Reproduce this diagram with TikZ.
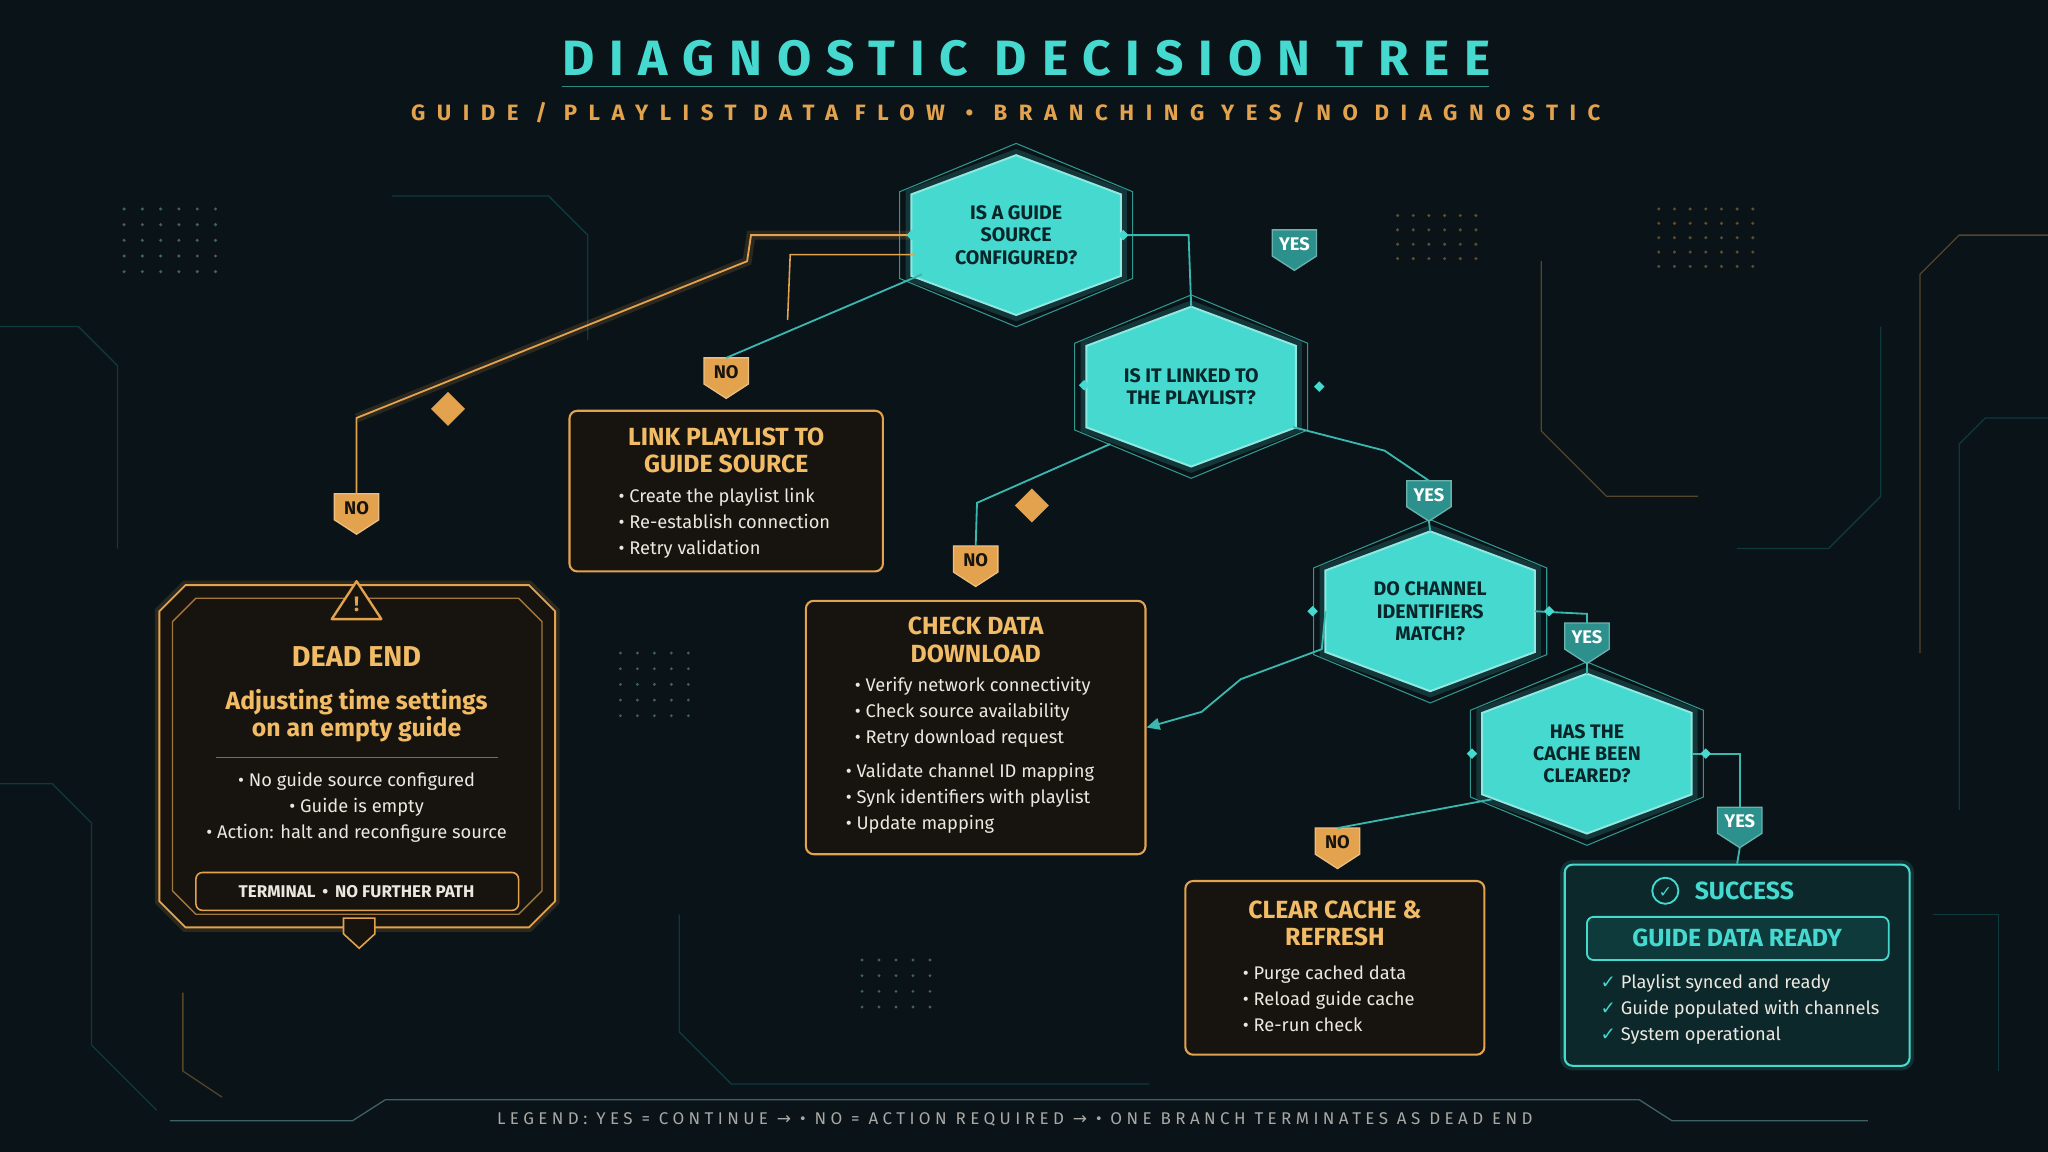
\documentclass[tikz,border=0pt]{standalone}
\usepackage{fontspec}
\setmainfont{Fira Sans}
\newfontfamily\sym{DejaVu Sans}
\usetikzlibrary{calc,arrows.meta}
\definecolor{bg}{HTML}{0A1317}
\definecolor{cy}{HTML}{45D9CF}
\definecolor{cyl}{HTML}{3AB8B0}
\definecolor{cyd}{HTML}{0E3A3C}
\definecolor{org}{HTML}{E3A24E}
\definecolor{orgt}{HTML}{F2BC66}
\definecolor{bxf}{HTML}{17140F}
\definecolor{txt}{HTML}{ECE8E0}
\definecolor{dk}{HTML}{08262A}
\tikzset{
 hexbox/.style={minimum width=160pt,minimum height=122pt,inner sep=0},
 hexfill/.style={fill=cy,draw=cy!60!white,line width=1.5pt},
 hexglow/.style={draw=cy,line width=9pt,opacity=0.18},
 hexout/.style={draw=cy!70!black,line width=0.8pt},
 hextext/.style={text=dk,font=\fontsize{15}{17}\selectfont\bfseries,align=center},
 obox/.style={draw=org,line width=1.6pt,fill=bxf,rounded corners=6pt},
 cbox/.style={draw=cy,line width=1.6pt,fill=cyd!55!bg,rounded corners=6pt},
 otitle/.style={text=orgt,font=\fontsize{19}{21}\selectfont\bfseries,align=center},
 bul/.style={text=txt,font=\fontsize{14}{20}\selectfont,align=left},
 bulc/.style={text=txt,font=\fontsize{14}{20}\selectfont,align=center},
 oline/.style={draw=org,line width=1.4pt},
 cline/.style={draw=cyl,line width=1.4pt},
 glowo/.style={draw=org,line width=7pt,opacity=0.15},
 glowc/.style={draw=cy,line width=7pt,opacity=0.15},
 badgetext/.style={font=\fontsize{14}{16}\selectfont\bfseries},
 deco/.style={draw=cyd,line width=1pt},
 decoo/.style={draw=org!35!bg,line width=1pt},
}
\newcommand\hexa[4]{%
 \node[hexbox] (#1) at (#2,#3) {};
 \path[hexglow] (#1.north) -- ([yshift=-30pt]#1.north east) -- ([yshift=30pt]#1.south east) -- (#1.south) -- ([yshift=30pt]#1.south west) -- ([yshift=-30pt]#1.north west) -- cycle;
 \draw[hexout] ([yshift=9pt]#1.north) -- ([xshift=9pt,yshift=-28pt]#1.north east) -- ([xshift=9pt,yshift=28pt]#1.south east) -- ([yshift=-9pt]#1.south) -- ([xshift=-9pt,yshift=28pt]#1.south west) -- ([xshift=-9pt,yshift=-28pt]#1.north west) -- cycle;
 \path[hexfill] (#1.north) -- ([yshift=-30pt]#1.north east) -- ([yshift=30pt]#1.south east) -- (#1.south) -- ([yshift=30pt]#1.south west) -- ([yshift=-30pt]#1.north west) -- cycle;
 \node[hextext] at (#1) {#4};
}
% badge: name, x, y, text, fill, textcolour
\newcommand\badge[6]{%
 \path[fill=#5,draw=#5!70!white,line width=1pt] (#2-17,#3-14) -- (#2+17,#3-14) -- (#2+17,#3+6) -- (#2,#3+17) -- (#2-17,#3+6) -- cycle;
 \node[badgetext,text=#6,inner sep=0] (#1) at (#2,#3-3) {#4};
 \coordinate (#1t) at (#2,#3-14);
 \coordinate (#1b) at (#2,#3+17);
}
\begin{document}
\begin{tikzpicture}[x=1pt,y=-1pt]
\useasboundingbox (0,0) rectangle (1568,882);
\fill[bg] (0,0) rectangle (1568,882);
% background decoration
\foreach \i in {0,...,5}{\foreach \j in {0,...,4}{\fill[cyd!80!white] (95+\i*14,160+\j*12) circle (1.3pt);}}
\foreach \i in {0,...,6}{\foreach \j in {0,...,4}{\fill[org!40!bg] (1270+\i*12,160+\j*11) circle (1.3pt);}}
\foreach \i in {0,...,5}{\foreach \j in {0,...,3}{\fill[org!40!bg] (1070+\i*12,165+\j*11) circle (1.3pt);}}
\foreach \i in {0,...,4}{\foreach \j in {0,...,4}{\fill[cyd!80!white] (475+\i*13,500+\j*12) circle (1.2pt);}}
\foreach \i in {0,...,4}{\foreach \j in {0,...,3}{\fill[cyd!80!white] (660+\i*13,735+\j*12) circle (1.2pt);}}
\draw[deco] (0,250) -- (60,250) -- (90,280) -- (90,420);
\draw[deco] (0,600) -- (40,600) -- (70,630) -- (70,800) -- (120,850);
\draw[decoo] (1568,180) -- (1500,180) -- (1470,210) -- (1470,500);
\draw[deco] (1568,320) -- (1520,320) -- (1500,340) -- (1500,620);
\draw[deco] (1440,250) -- (1440,380) -- (1400,420) -- (1330,420);
\draw[deco] (520,700) -- (520,790) -- (560,830) -- (880,830);
\draw[decoo] (140,760) -- (140,820) -- (170,840);
\draw[deco] (1480,700) -- (1530,700) -- (1530,820);
\draw[decoo] (1180,200) -- (1180,330) -- (1230,380) -- (1300,380);
\draw[deco] (300,150) -- (420,150) -- (450,180) -- (450,260);
% title
\node[text=cy,font=\fontsize{38}{40}\selectfont\bfseries\addfontfeature{LetterSpace=30}] (title) at (786,45) {DIAGNOSTIC DECISION TREE};
\draw[cy,line width=1pt,opacity=0.6] (430,66) -- (1140,66);
\node[text=org,font=\fontsize{17}{19}\selectfont\bfseries\addfontfeature{LetterSpace=52}] (sub) at (770,86) {GUIDE / PLAYLIST DATA FLOW \,•\, BRANCHING YES/NO DIAGNOSTIC};
% hexagons
\hexa{h1}{778}{180}{IS A GUIDE\\SOURCE\\CONFIGURED?}
\hexa{h2}{912}{296}{IS IT LINKED TO\\THE PLAYLIST?}
\hexa{h3}{1095}{468}{DO CHANNEL\\IDENTIFIERS\\MATCH?}
\hexa{h4}{1215}{577}{HAS THE\\CACHE BEEN\\CLEARED?}
% dead end box
\path[glowo] (142,448) -- (405,448) -- (425,468) -- (425,690) -- (405,710) -- (142,710) -- (122,690) -- (122,468) -- cycle;
\draw[oline,fill=bxf] (142,448) -- (405,448) -- (425,468) -- (425,690) -- (405,710) -- (142,710) -- (122,690) -- (122,468) -- cycle;
\draw[org!70!bg,line width=1pt] (150,458) -- (397,458) -- (415,476) -- (415,682) -- (397,700) -- (150,700) -- (132,682) -- (132,476) -- cycle;
\node (dead) at (273,579) {};
\draw[org,line width=1.8pt,line join=round,fill=bxf] (273,445) -- (292,474) -- (254,474) -- cycle;
\node[text=org,font=\fontsize{16}{16}\selectfont\bfseries] at (273,463) {!};
\node[otitle,font=\fontsize{22}{24}\selectfont\bfseries] at (273,503) {DEAD END};
\node[otitle] at (273,548) {Adjusting time settings\\on an empty guide};
\draw[org!60!bg,line width=1pt] (165,580) -- (381,580);
\node[bulc] at (273,618) {• No guide source configured\\• Guide is empty\\• Action: halt and reconfigure source};
\draw[org,line width=1.2pt,rounded corners=5pt,fill=bxf] (150,668) rectangle (397,697);
\node[text=txt,font=\fontsize{13}{15}\selectfont\bfseries] at (273,683) {TERMINAL \,•\, NO FURTHER PATH};
\draw[org,line width=1.2pt,fill=bxf] (263,703) -- (287,703) -- (287,715) -- (275,726) -- (263,715) -- cycle;
% link playlist box
\node[obox,minimum width=240pt,minimum height=123pt] (link) at (556,376) {};
\node[otitle] at (556,345) {LINK PLAYLIST TO\\GUIDE SOURCE};
\node[bul,anchor=north west] at (470,370) {• Create the playlist link\\• Re-establish connection\\• Retry validation};
% check data box
\node[obox,minimum width=260pt,minimum height=194pt] (check) at (747,557) {};
\node[otitle] at (747,490) {CHECK DATA\\DOWNLOAD};
\node[bul,anchor=north west] at (651,515) {• Verify network connectivity\\• Check source availability\\• Retry download request};
\node[bul,anchor=north west] at (644,581) {• Validate channel ID mapping\\• Synk identifiers with playlist\\• Update mapping};
% clear cache box
\node[obox,minimum width=229pt,minimum height=133pt] (clear) at (1022,741) {};
\node[otitle] at (1022,707) {CLEAR CACHE \&\\REFRESH};
\node[bul,anchor=north west] at (948,736) {• Purge cached data\\• Reload guide cache\\• Re-run check};
% success box
\path[glowc,rounded corners=6pt] (1198,662) rectangle (1462,816);
\node[cbox,minimum width=264pt,minimum height=154pt] (succ) at (1330,739) {};
\draw[cy,line width=1.4pt] (1275,682) circle (10pt);
\node[text=cy,font=\sym\fontsize{12}{12}\selectfont] at (1275,683) {✓};
\node[text=cy,font=\fontsize{19}{21}\selectfont\bfseries,anchor=west] at (1294,682) {SUCCESS};
\draw[cy,line width=1.4pt,rounded corners=5pt,fill=cyd] (1215,702) rectangle (1446,735);
\node[text=cy,font=\fontsize{19}{21}\selectfont\bfseries] at (1330,718) {GUIDE DATA READY};
\node[bul,anchor=north west] at (1222,742) {{\sym\color{cy}✓} Playlist synced and ready\\{\sym\color{cy}✓} Guide populated with channels\\{\sym\color{cy}✓} System operational};
% badges
\badge{ndead}{273}{392}{NO}{org}{bxf}
\badge{nlink}{556}{288}{NO}{org}{bxf}
\badge{ncheck}{747}{432}{NO}{org}{bxf}
\badge{nclear}{1024}{648}{NO}{org}{bxf}
\badge{y1}{991}{190}{YES}{cy!55!cyd}{white}
\badge{y2}{1094}{382}{YES}{cy!55!cyd}{white}
\badge{y3}{1215}{491}{YES}{cy!55!cyd}{white}
\badge{y4}{1332}{632}{YES}{cy!55!cyd}{white}
% connectors
\path[glowo] (h1.west) -- (575,180) -- (572,200) -- (273,320);
\draw[oline] (h1.west) -- (575,180) -- (572,200) -- (273,320) -- (ndeadt);
\draw[org,line width=1.2pt] (700,195) -- (605,195) -- (603,245);
\draw[cline] (706,210) -- (nlinkt);
\draw[cline] (h1.east) -- (910,180) -- (h2.north);
\draw[cline] (850,340) -- (748,385) -- (ncheckt);
\draw[cline] (990,327) -- (1060,345) -- (y2t);
\draw[cline] (h3.west) -- (1012,497) -- (950,520) -- (920,545);
\draw[cyl,line width=1.4pt,-{Triangle[length=10pt,width=9pt]}] (920,545) -- (check.east);
\draw[cline] (h3.east) -- (1215,470) -- (y3t);
\draw[cline] (1142,612) -- (ncleart);
\draw[cline] (h4.east) -- (1332,577) -- (y4t);
\draw[cline] (y2b) -- (h3.north);
\draw[cline] (y3b) -- (h4.north);
\draw[cline] (y4b) -- (succ.north);
% small diamonds
\foreach \p in {(343,313),(790,387)}{\fill[org] \p ++(0,-13) -- ++(13,13) -- ++(-13,13) -- ++(-13,-13) -- cycle;}
\foreach \p in {(698,180),(860,180),(830,295),(1010,296),(1005,468),(1186,468),(1127,577),(1306,577)}{\fill[cy] \p ++(0,-4) -- ++(4,4) -- ++(-4,4) -- ++(-4,-4) -- cycle;}
% legend
\draw[cyd!80!white,line width=1pt] (130,858) -- (270,858) -- (295,842) -- (1255,842) -- (1280,858) -- (1430,858);
\node[text=txt!70!bg,font=\fontsize{13}{15}\selectfont\addfontfeature{LetterSpace=26}] (legend) at (777,857) {LEGEND: YES = CONTINUE {\sym →} • NO = ACTION REQUIRED {\sym →} • ONE BRANCH TERMINATES AS DEAD END};
\end{tikzpicture}
\end{document}
